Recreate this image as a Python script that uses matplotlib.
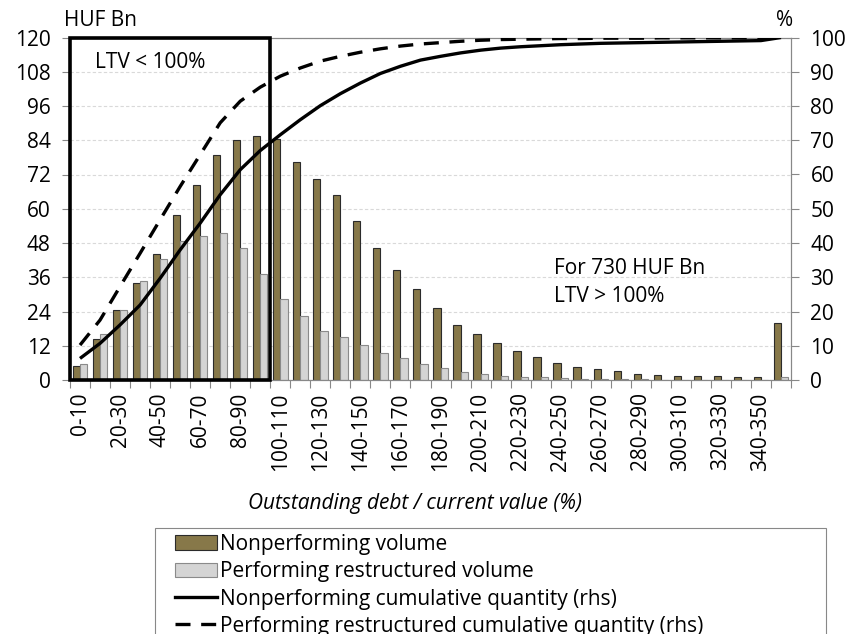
import matplotlib
matplotlib.use("Agg")
import matplotlib.pyplot as plt
from matplotlib.patches import Rectangle, Patch
from matplotlib.lines import Line2D
import numpy as np

plt.rcParams['font.family'] = ['Open Sans', 'DejaVu Sans']

categories = ['0-10', '10-20', '20-30', '30-40', '40-50', '50-60', '60-70', '70-80', '80-90', '90-100',
              '100-110', '110-120', '120-130', '130-140', '140-150', '150-160', '160-170', '170-180',
              '180-190', '190-200', '200-210', '210-220', '220-230', '230-240', '240-250', '250-260',
              '260-270', '270-280', '280-290', '290-300', '300-310', '310-320', '320-330', '330-340',
              '340-350', '350-']

np_vol = [5.0, 14.3, 24.5, 33.9, 44.2, 57.8, 68.3, 78.7, 84.1, 85.6,
          84.5, 76.5, 70.4, 64.7, 55.7, 46.3, 38.6, 32.0, 25.2, 19.2,
          16.0, 12.9, 10.3, 8.0, 5.8, 4.7, 3.7, 3.2, 2.1, 1.6,
          1.4, 1.4, 1.4, 0.9, 0.9, 20.0]

pr_vol = [5.6, 16.1, 24.5, 34.6, 42.3, 48.7, 50.6, 51.5, 46.1, 37.1,
          28.3, 22.3, 17.2, 15.2, 12.2, 9.4, 7.6, 5.5, 4.1, 2.7,
          2.0, 1.3, 1.0, 1.0, 0.7, 0.4, 0.3, 0.2, 0.2, 0.1,
          0.1, 0.1, 0.1, 0.1, 0.1, 1.0]

np_cum = [6.3, 10.7, 16.1, 21.9, 29.7, 38.0, 45.8, 54.1, 61.4, 67.0,
          71.6, 76.0, 80.1, 83.6, 86.7, 89.5, 91.6, 93.4, 94.5, 95.5,
          96.3, 96.9, 97.3, 97.6, 97.9, 98.1, 98.3, 98.4, 98.5, 98.6,
          98.7, 98.8, 98.9, 99.0, 99.1, 100.0]

pr_cum = [10.2, 17.5, 27.3, 37.0, 46.8, 56.5, 65.8, 75.1, 81.4, 85.5,
          88.7, 91.1, 93.1, 94.5, 95.7, 96.7, 97.5, 98.1, 98.5, 98.9,
          99.2, 99.4, 99.5, 99.6, 99.7, 99.7, 99.8, 99.8, 99.8, 99.9,
          99.9, 99.9, 99.9, 99.9, 99.9, 100.0]

left_ticks = [0, 12, 24, 36, 48, 60, 72, 84, 96, 108, 120]
right_ticks = [0, 10, 20, 30, 40, 50, 60, 70, 80, 90, 100]

NP_COLOR = '#877849'
PR_COLOR = '#d4d4d4'
FS = 15
DASH = (0, (4.5, 3.2))

W, H = 856, 634
fig = plt.figure(figsize=(W / 100, H / 100), dpi=100)
ax = fig.add_axes([70 / W, 1 - 380 / H, (791 - 70) / W, (380 - 37.5) / H])
ax2 = ax.twinx()

x = np.arange(len(categories))
bw = 0.36
ax.bar(x - bw / 2, np_vol, bw, color=NP_COLOR, edgecolor='#2b2b2b', linewidth=0.8, zorder=2)
ax.bar(x + bw / 2, pr_vol, bw, color=PR_COLOR, edgecolor='#8a8a8a', linewidth=0.8, zorder=2)

ax.set_xlim(-0.5, len(categories) - 0.5)
ax.set_ylim(0, 120)
ax.set_yticks(left_ticks)
ax2.set_ylim(0, 100)
ax2.set_yticks(right_ticks)

ax.grid(axis='y', color='#d9d9d9', linestyle=(0, (3, 2)), linewidth=0.8, zorder=0)
ax.set_axisbelow(True)

ax2.plot(x, np_cum, color='black', linewidth=2.4, zorder=3, solid_capstyle='butt')
ax2.plot(x, pr_cum, color='black', linewidth=2.4, linestyle=DASH, zorder=3)

# LTV < 100% box
ax2.add_patch(Rectangle((-0.5, 0), 10, 120, transform=ax.transData, fill=False,
                        edgecolor='black', linewidth=2.6, zorder=4, clip_on=False))

# x ticks
ax.set_xticks(x)
ax.set_xticklabels([c if i % 2 == 0 else '' for i, c in enumerate(categories)],
                   rotation=90, fontsize=FS)
ax.tick_params(axis='x', which='major', length=0, pad=9)
ax.set_xticks(np.arange(-0.5, len(categories), 1), minor=True)
ax.tick_params(axis='x', which='minor', length=6, color='#888888', width=0.8)

ax.tick_params(axis='y', labelsize=FS, length=6, color='#888888', width=0.8, pad=8)
ax2.tick_params(axis='y', labelsize=FS, length=6, color='#888888', width=0.8, pad=8)

for a in (ax, ax2):
    for s in a.spines.values():
        s.set_color('#888888')
        s.set_linewidth(0.8)

# texts
ax.text(0.035, 0.926, 'LTV < 100%', transform=ax.transAxes, fontsize=FS, ha='left', va='center')
ax.text(0.671, 0.327, 'For 730 HUF Bn', transform=ax.transAxes, fontsize=FS, ha='left', va='center')
ax.text(0.671, 0.245, 'LTV > 100%', transform=ax.transAxes, fontsize=FS, ha='left', va='center')
fig.text(64 / W, 1 - 20 / H, 'HUF Bn', fontsize=FS, ha='left', va='center')
fig.text(785 / W, 1 - 20 / H, '%', fontsize=FS, ha='center', va='center')
fig.text(415 / W, 1 - 504 / H, 'Outstanding debt / current value (%)', fontsize=FS,
         style='italic', ha='center', va='center')

# legend
fig.add_artist(Rectangle((155 / W, 1 - 700 / H), (826 - 155) / W, (700 - 528) / H,
                         transform=fig.transFigure, fill=False, edgecolor='#888888',
                         linewidth=0.8))
handles = [Patch(facecolor=NP_COLOR, edgecolor='#2b2b2b', linewidth=0.8),
           Patch(facecolor=PR_COLOR, edgecolor='#8a8a8a', linewidth=0.8),
           Line2D([], [], color='black', linewidth=2.4),
           Line2D([], [], color='black', linewidth=2.4, linestyle=DASH)]
labels = ['Nonperforming volume', 'Performing restructured volume',
          'Nonperforming cumulative quantity (rhs)',
          'Performing restructured cumulative quantity (rhs)']
fig.legend(handles, labels, loc='upper left', bbox_to_anchor=(175 / W, 1 - 534 / H),
           bbox_transform=fig.transFigure, frameon=False, fontsize=FS,
           handlelength=2.0, handletextpad=0.15, labelspacing=0.30, borderpad=0,
           borderaxespad=0, handleheight=0.7)

fig.savefig('out.png', dpi=100)
